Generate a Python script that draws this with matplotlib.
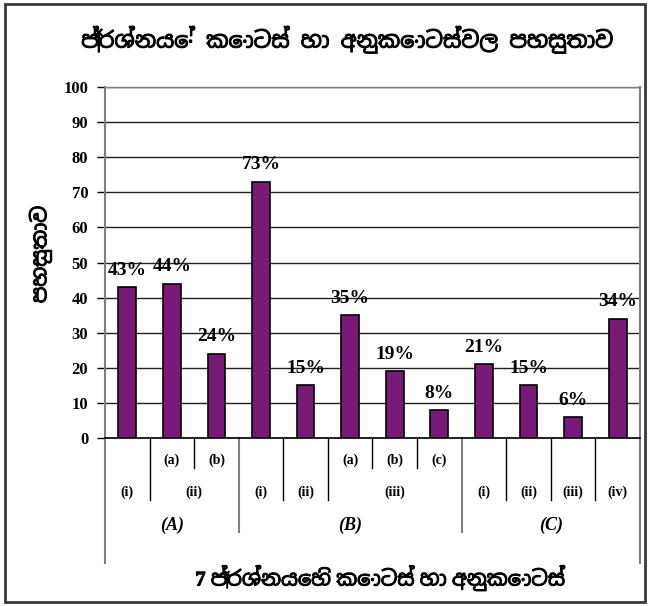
import matplotlib
matplotlib.use("Agg")
import matplotlib.pyplot as plt
import matplotlib.patheffects as pe
from matplotlib import font_manager
from matplotlib.ft2font import FT2Font
from matplotlib.patches import Rectangle

# data
TITLE  = "ප්‍රශ්නයේ කොටස් හා අනුකොටස්වල පහසුතාව"
XLABEL = "7 ප්‍රශ්නයෙහි කොටස් හා අනුකොටස්"
YLABEL = "පහසුතාව"

values    = [43, 44, 24, 73, 15, 35, 19, 8, 21, 15, 6, 34]
sub_lbls  = ["", "(a)", "(b)", "", "", "(a)", "(b)", "(c)", "", "", "", ""]
# (label, first index, last index)
part_lbls = [("(i)", 0, 0), ("(ii)", 1, 2), ("(i)", 3, 3), ("(ii)", 4, 4),
             ("(iii)", 5, 7), ("(i)", 8, 8), ("(ii)", 9, 9), ("(iii)", 10, 10),
             ("(iv)", 11, 11)]
grp_lbls  = [("A", 0, 2), ("B", 3, 7), ("C", 8, 11)]
yticks    = [0, 10, 20, 30, 40, 50, 60, 70, 80, 90, 100]

BAR_COLOR = "#7a1a78"
SERIF = ["Liberation Serif", "DejaVu Serif"]


def sinhala_family():
    # look for any installed face that covers the Sinhala block
    fonts = sorted(font_manager.fontManager.ttflist,
                   key=lambda f: "sinhala" not in f.name.lower())
    for f in fonts:
        try:
            if 0x0DB4 in FT2Font(f.fname).get_charmap():
                return f.name
        except Exception:
            pass
    return None


sin = sinhala_family()
SIN_FAM = ([sin] if sin else []) + ["Noto Sans", "DejaVu Sans"]
HEAVY = [pe.withStroke(linewidth=0.7, foreground="black")]

fig = plt.figure(figsize=(6.5, 6.06), dpi=100)
ax = fig.add_axes([0.1615, 0.2772, 0.823, 0.5792])

x = list(range(len(values)))
bars = ax.bar(x, values, width=0.4, color=BAR_COLOR, edgecolor="black",
              linewidth=1.2, zorder=3)
for b, v in zip(bars, values):
    ax.annotate(f"{v}%", xy=(b.get_x() + b.get_width() / 2, v),
                xytext=(0, 6), textcoords="offset points",
                ha="center", va="bottom", fontsize=14, fontweight="bold",
                family=SERIF)

ax.set_xlim(-0.5, len(values) - 0.5)
ax.set_ylim(0, 100)
ax.set_yticks(yticks)
ax.set_yticklabels([str(t) for t in yticks], fontsize=12, fontweight="bold",
                   family=SERIF)
ax.tick_params(axis="y", direction="out", length=6, width=1, color="black", pad=6)
ax.set_xticks([])
ax.yaxis.grid(True, color="#222222", linewidth=1.0, zorder=0)
ax.set_axisbelow(True)

for s in ("left", "right"):
    ax.spines[s].set_color("#7f7f7f")
    ax.spines[s].set_linewidth(1.5)
ax.spines["top"].set_color("#7f7f7f")
ax.spines["top"].set_linewidth(1.0)
ax.spines["bottom"].set_color("black")
ax.spines["bottom"].set_linewidth(1.2)

# category tree under the axis
tr = ax.get_xaxis_transform()
depth = {0: -0.356, 12: -0.356, 3: -0.268, 8: -0.268,
         2: -0.0855, 6: -0.0855, 7: -0.0855}
for k in range(len(values) + 1):
    d = depth.get(k, -0.177)
    major = k in (0, 3, 8, 12)
    ax.plot([k - 0.5, k - 0.5], [0, d], transform=tr, clip_on=False,
            color="#7f7f7f" if major else "black", lw=1.5 if major else 1.0)

for i, t in enumerate(sub_lbls):
    if t:
        ax.text(i, -0.063, t, transform=tr, ha="center", va="center",
                fontsize=10, fontweight="bold", family=SERIF)
for t, a, b in part_lbls:
    ax.text((a + b) / 2, -0.154, t, transform=tr, ha="center", va="center",
            fontsize=10, fontweight="bold", family=SERIF)
for t, a, b in grp_lbls:
    ax.text((a + b) / 2, -0.248, f"({t})", transform=tr, ha="center",
            va="center", fontsize=13, fontweight="bold", fontstyle="italic",
            family=SERIF)

fig.text(0.534, 0.934, TITLE, ha="center", va="center", fontsize=16,
         fontweight="bold", family=SIN_FAM, path_effects=HEAVY)
fig.text(0.585, 0.046, XLABEL, ha="center", va="center", fontsize=15,
         fontweight="bold", family=SERIF[:1] + SIN_FAM, path_effects=HEAVY)
fig.text(0.062, 0.58, YLABEL, ha="center", va="center", rotation=90,
         fontsize=15, fontweight="bold", family=SIN_FAM, path_effects=HEAVY)

# outer frame
fig.patches.append(Rectangle((0.007, 0.007), 0.986, 0.987,
                             transform=fig.transFigure, fill=False,
                             edgecolor="#3a3a3a", linewidth=2.0))

fig.savefig("out.png", dpi=100)
